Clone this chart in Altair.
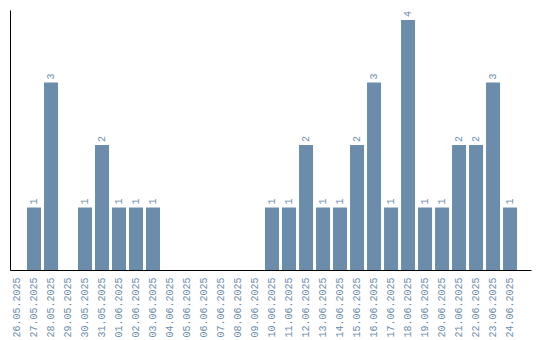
import altair as alt
import pandas as pd

dates = ["26.05.2025", "27.05.2025", "28.05.2025", "29.05.2025", "30.05.2025",
         "31.05.2025", "01.06.2025", "02.06.2025", "03.06.2025", "04.06.2025",
         "05.06.2025", "06.06.2025", "07.06.2025", "08.06.2025", "09.06.2025",
         "10.06.2025", "11.06.2025", "12.06.2025", "13.06.2025", "14.06.2025",
         "15.06.2025", "16.06.2025", "17.06.2025", "18.06.2025", "19.06.2025",
         "20.06.2025", "21.06.2025", "22.06.2025", "23.06.2025", "24.06.2025"]
counts = [0, 1, 3, 0, 1, 2, 1, 1, 1, 0,
          0, 0, 0, 0, 0, 1, 1, 2, 1, 1,
          2, 3, 1, 4, 1, 1, 2, 2, 3, 1]

df = pd.DataFrame({"date": dates, "count": counts})
df["label"] = df["count"].astype(str)

COLOR = "#6b8cab"
FONT = "Liberation Mono"

x = alt.X("date:N", sort=dates, title=None,
          scale=alt.Scale(paddingInner=0.176, paddingOuter=0.41, align=0),
          axis=alt.Axis(labelAngle=-90, labelColor=COLOR, labelFont=FONT,
                        labelFontSize=10, ticks=False, labelPadding=7,
                        domainColor="black", domainWidth=1, grid=False))
y = alt.Y("count:Q", title=None,
          scale=alt.Scale(domain=[0, 4.16], nice=False),
          axis=alt.Axis(labels=False, ticks=False, grid=False,
                        domainColor="black", domainWidth=1))

base = alt.Chart(df)
bars = base.mark_bar(color=COLOR).encode(x=x, y=y)
text = base.transform_filter("datum.count > 0").mark_text(
    angle=270, align="left", baseline="middle", dx=3,
    color=COLOR, font=FONT, fontSize=10
).encode(x=alt.X("date:N", sort=dates), y="count:Q", text="label:N")

chart = (bars + text).properties(
    width=521, height=260,
    autosize=alt.AutoSizeParams(type="none"),
    padding={"left": 10, "top": 10, "right": 9, "bottom": 70},
).configure_view(stroke=None)

chart.save("out.html", embed_options={"renderer": "svg", "actions": False})
